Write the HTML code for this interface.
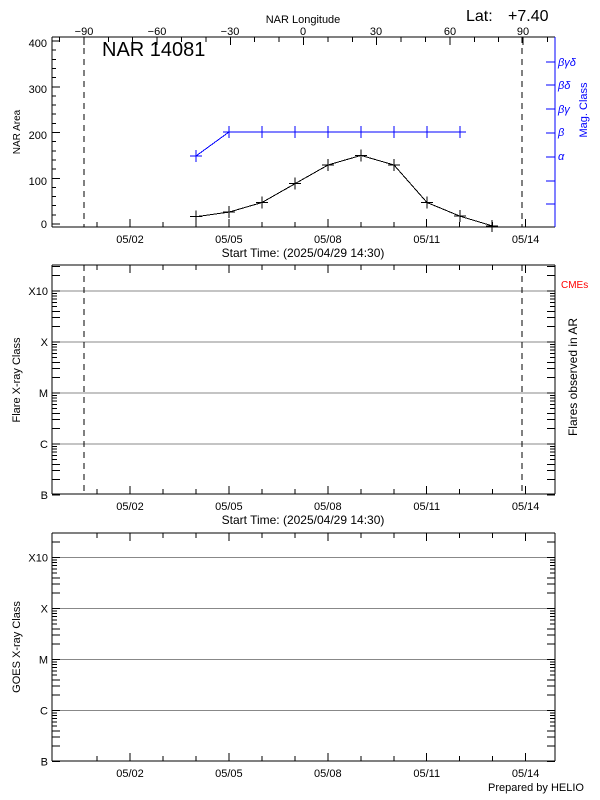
<!DOCTYPE html>
<html><head><meta charset="utf-8"><style>
html,body{margin:0;padding:0;background:#fff;}
svg{display:block;}
text{font-family:"Liberation Sans",sans-serif;}
</style></head><body>
<svg id="s" width="600" height="800" xmlns="http://www.w3.org/2000/svg">
<g id="g" stroke-width="1" shape-rendering="crispEdges"></g>
<g font-size="11" fill="#000">
<text x="303" y="23" text-anchor="middle" font-size="11">NAR Longitude</text>
<text x="466" y="21" font-size="16">Lat:</text>
<text x="508" y="21" font-size="16">+7.40</text>
<text x="102" y="56" font-size="20">NAR 14081</text>
<text x="84" y="35" text-anchor="middle">−90</text>
<text x="157" y="35" text-anchor="middle">−60</text>
<text x="230" y="35" text-anchor="middle">−30</text>
<text x="303" y="35" text-anchor="middle">0</text>
<text x="376" y="35" text-anchor="middle">30</text>
<text x="450" y="35" text-anchor="middle">60</text>
<text x="523" y="35" text-anchor="middle">90</text>
<text x="47" y="228" text-anchor="end">0</text>
<text x="47" y="185" text-anchor="end">100</text>
<text x="47" y="139" text-anchor="end">200</text>
<text x="47" y="93" text-anchor="end">300</text>
<text x="47" y="47" text-anchor="end">400</text>
<text transform="translate(20,132) rotate(-90)" text-anchor="middle" font-size="10">NAR Area</text>
<g fill="#0000ff" font-size="11" font-style="italic">
<text x="558" y="66">βγδ</text><text x="558" y="89">βδ</text><text x="558" y="113">βγ</text><text x="558" y="136">β</text><text x="558" y="160">α</text>
<text transform="translate(587,110) rotate(-90)" text-anchor="middle" font-style="normal" font-size="11">Mag. Class</text>
</g>
<text x="303" y="257" text-anchor="middle" font-size="12">Start Time: (2025/04/29 14:30)</text>
<text x="303" y="524" text-anchor="middle" font-size="12">Start Time: (2025/04/29 14:30)</text>
<text transform="translate(20,380) rotate(-90)" text-anchor="middle" font-size="11">Flare X-ray Class</text>
<text transform="translate(20,647) rotate(-90)" text-anchor="middle" font-size="11">GOES X-ray Class</text>
<text transform="translate(577,377) rotate(-90)" text-anchor="middle" font-size="12">Flares observed in AR</text>
<text x="561" y="288" fill="#ff0000" font-size="10">CMEs</text>
<text x="584" y="791" text-anchor="end" font-size="11">Prepared by HELIO</text>
</g>
<g id="t" font-size="11" fill="#000"></g>
</svg>
<script>
var NS="http://www.w3.org/2000/svg",g=document.getElementById('g'),t=document.getElementById('t');
function L(x1,y1,x2,y2,c,d,w){var e=document.createElementNS(NS,'line');e.setAttribute('x1',x1);e.setAttribute('y1',y1);e.setAttribute('x2',x2);e.setAttribute('y2',y2);e.setAttribute('stroke',c||'#000');if(d)e.setAttribute('stroke-dasharray',d);if(w)e.setAttribute('stroke-width',w);g.appendChild(e);}
function T(x,y,s,a){var e=document.createElementNS(NS,'text');e.setAttribute('x',x);e.setAttribute('y',y);e.setAttribute('text-anchor',a||'middle');e.textContent=s;t.appendChild(e);}
var X0=52,X1=555;
function dx(d){return 130+(d-2)*32.97;}
function dateAxis(top,bot,lab){
 for(var d=1;d<=15;d++){var x=dx(d);if(x<X0||x>X1)continue;var maj=(d%3==2);var len=maj?8:5;
  L(x,bot,x,bot-len);if(top!==null)L(x,top,x,top+len);
  if(maj)T(x,bot+16,'05/'+(d<10?'0'+d:d));}
}
// Panel 1
var P1t=37,P1b=227;
L(X0,P1t,X1,P1t);L(X0,P1b,X1,P1b);L(X0,P1t,X0,P1b);L(X1,P1t,X1,P1b,'#0000ff');
function ay(v){return 224-v*0.4575;}
for(var v=0;v<=400;v+=20){var y=ay(v);L(X0,y,X0+(v%100==0?8:4),y);}
dateAxis(null,P1b);
for(var lon=-100;lon<=100;lon+=10){var x=303.5+lon*2.44;if(x<X0||x>X1)continue;L(x,P1t,x,P1t+(lon%30==0?8:5));}
[62,85,109,133,157,181,204].forEach(function(y){L(X1,y,X1-9,y,'#0000ff');});
L(84,P1t,84,P1b,'#000','6,5');L(522,P1t,522,P1b,'#000','6,5');
// data
var bx=[196,229,262,295,328,361,394,427,460,492],bv=[16,26,47,88,129,150,129,47,17,-4];
var pts=bx.map(function(x,i){return x+','+ay(bv[i]).toFixed(1);}).join(' ');
var pl=document.createElementNS(NS,'polyline');pl.setAttribute('points',pts);pl.setAttribute('fill','none');pl.setAttribute('stroke','#000');g.appendChild(pl);
bx.forEach(function(x,i){var y=ay(bv[i]);L(x-6,y,x+6,y);L(x,y-6,x,y+6);});
var blx=[196,229,262,295,328,361,394,427,460],bly=[156,132,132,132,132,132,132,132,132];
var pl2=document.createElementNS(NS,'polyline');pl2.setAttribute('points',blx.map(function(x,i){return x+','+bly[i];}).join(' '));pl2.setAttribute('fill','none');pl2.setAttribute('stroke','#0000ff');g.appendChild(pl2);
blx.forEach(function(x,i){var y=bly[i];L(x-6,y,x+6,y,'#0000ff');L(x,y-6,x,y+6,'#0000ff');});
// log panels
function logPanel(top,bot,x10,dash){
 var sp=51;
 L(X0,top,X1,top);L(X0,bot,X1,bot);L(X0,top,X0,bot);L(X1,top,X1,bot);
 var labs=['X10','X','M','C','B'];
 for(var i=0;i<5;i++){var y=x10+i*sp;
  if(i<4)L(X0+1,y,X1-1,y,'#888');
  L(X0,y,X0+8,y);L(X1,y,X1-8,y);
  T(X0-4,y+4,labs[i],'end');}
 for(var i=-1;i<4;i++){var base=x10+i*sp;
  for(var k=2;k<=9;k++){var y=base+sp*(1-Math.log10(k));if(y<=top+1||y>=bot-1)continue;var len=k<=4?8:5;L(X0,y,X0+len,y);L(X1,y,X1-len,y);}}
 dateAxis(top,bot);
 if(dash){L(84,top,84,bot,'#000','6,5');L(522,top,522,bot,'#000','6,5');}
}
logPanel(265,494,291,true);
logPanel(533,761,557.5,false);
</script>
</body></html>
